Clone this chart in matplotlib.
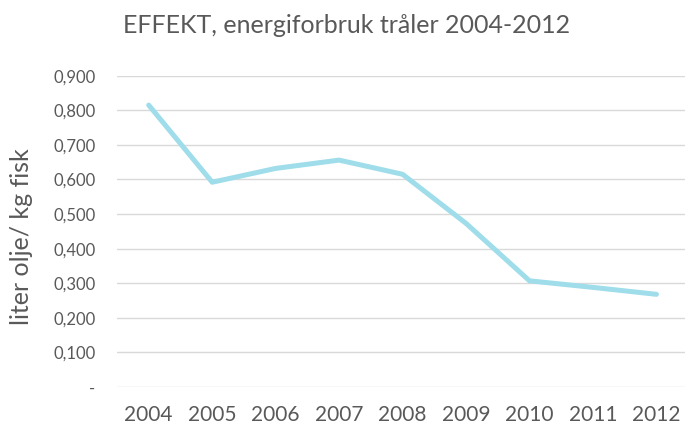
import matplotlib
matplotlib.use('Agg')
import matplotlib.pyplot as plt

# data
years = ['2004', '2005', '2006', '2007', '2008', '2009', '2010', '2011', '2012']
liter_per_kg = [0.815, 0.592, 0.632, 0.656, 0.615, 0.473, 0.307, 0.288, 0.268]

y_ticks = [0.0, 0.1, 0.2, 0.3, 0.4, 0.5, 0.6, 0.7, 0.8, 0.9]
y_tick_labels = ['-', '0,100', '0,200', '0,300', '0,400', '0,500',
                 '0,600', '0,700', '0,800', '0,900']

TEXT = '#595959'
plt.rcParams['font.family'] = ['Lato', 'DejaVu Sans']

fig = plt.figure(figsize=(6.85, 4.26), dpi=100)
ax = fig.add_axes([0.1708, 0.0915, 0.8292, 0.7308])

x = list(range(len(years)))
ax.plot(x, liter_per_kg, color='#9edde9', linewidth=3.6,
        solid_capstyle='round', solid_joinstyle='round', zorder=3)

ax.set_xlim(-0.5, 8.45)
ax.set_ylim(0, 0.9)
ax.set_xticks(x)
ax.set_xticklabels(years, fontsize=15, color=TEXT)
ax.set_yticks(y_ticks)
ax.set_yticklabels(y_tick_labels, fontsize=12, color=TEXT)
ax.tick_params(axis='both', length=0)
ax.tick_params(axis='x', pad=13)
ax.tick_params(axis='y', pad=15.5)

ax.grid(axis='y', color='#d9d9d9', linewidth=1.0)
ax.set_axisbelow(True)
for s in ax.spines.values():
    s.set_visible(False)

fig.text(0.032, 0.445, 'liter olje/ kg fisk', fontsize=18, color=TEXT,
         rotation=90, ha='center', va='center')
fig.text(0.506, 0.9225, 'EFFEKT, energiforbruk tråler 2004-2012',
         fontsize=18, color=TEXT, ha='center', va='baseline')

fig.savefig('out.png', dpi=100)
